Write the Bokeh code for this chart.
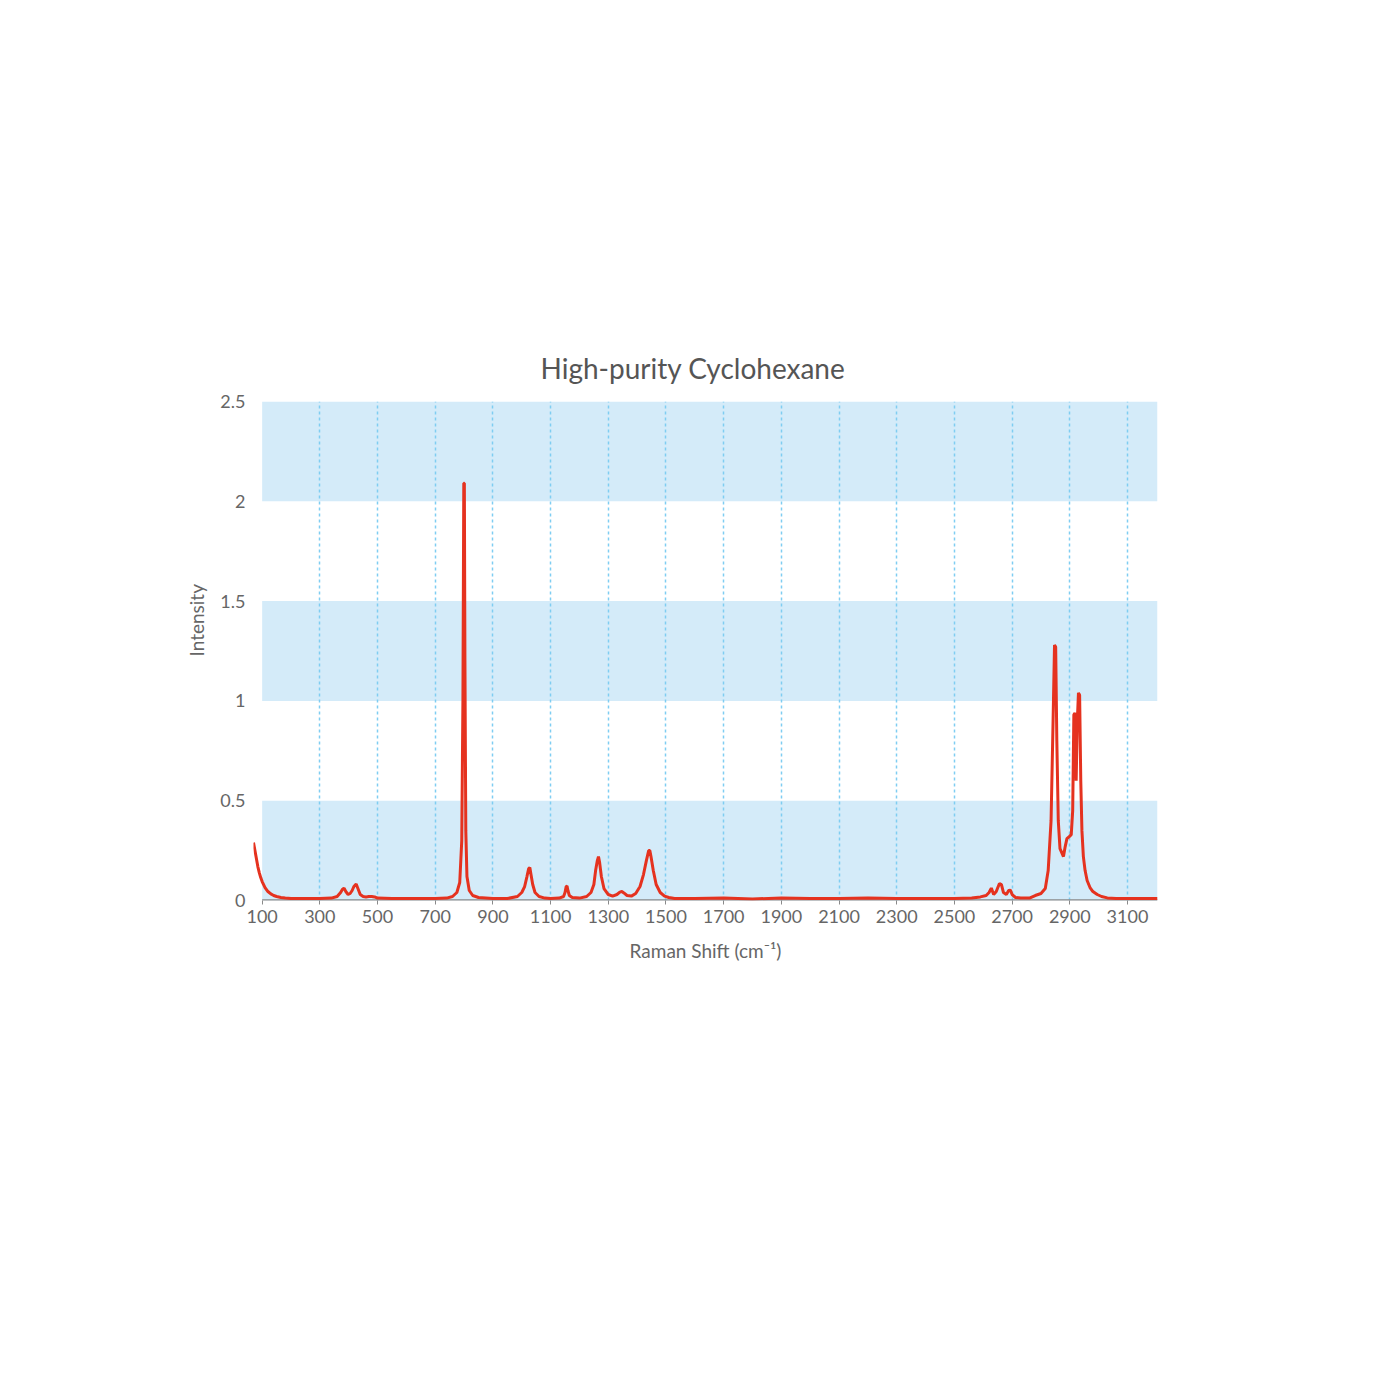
from bokeh.plotting import figure
from bokeh.models import FixedTicker, Range1d, Title
from bokeh.embed import file_html
from bokeh.resources import INLINE

# ---------------- data ----------------
raman_shift = [
    70, 75, 80, 85, 90, 95, 100, 110, 120, 130, 140, 150, 165, 180, 200, 250, 300,
    340, 360, 372, 378, 384, 390, 398, 405, 412, 418, 426, 432, 440, 450, 460, 470,
    480, 490, 500, 550, 600, 650, 700, 740, 760, 775, 785, 792, 796, 799, 801, 803,
    806, 810, 818, 830, 850, 900, 950, 985, 1000, 1010, 1018, 1024, 1028, 1032, 1038,
    1046, 1060, 1080, 1100, 1130, 1145, 1150, 1154, 1157, 1160, 1165, 1175, 1200,
    1225, 1240, 1250, 1256, 1262, 1266, 1270, 1276, 1285, 1300, 1315, 1330, 1340,
    1347, 1354, 1365, 1380, 1395, 1410, 1422, 1432, 1440, 1444, 1448, 1456, 1466,
    1480, 1495, 1510, 1530, 1600, 1700, 1800, 1900, 2000, 2100, 2200, 2300, 2400,
    2500, 2560, 2590, 2610, 2620, 2628, 2636, 2645, 2656, 2663, 2670, 2680, 2688,
    2694, 2700, 2712, 2730, 2760, 2780, 2800, 2815, 2825, 2835, 2842, 2847, 2851,
    2855, 2860, 2866, 2872, 2878, 2884, 2890, 2898, 2905, 2910, 2914, 2918, 2922,
    2926, 2930, 2934, 2938, 2942, 2947, 2953, 2960, 2970, 2980, 2995, 3010, 3030,
    3060, 3100, 3150, 3204,
]
intensity = [
    0.29, 0.25, 0.21, 0.17, 0.14, 0.115, 0.095, 0.065, 0.045, 0.033, 0.025, 0.02,
    0.015, 0.012, 0.01, 0.01, 0.01,
    0.012, 0.02, 0.04, 0.055, 0.062, 0.045, 0.03, 0.035, 0.05, 0.07, 0.082, 0.06,
    0.03, 0.02, 0.018, 0.02,
    0.02, 0.018, 0.012, 0.01, 0.01, 0.01, 0.01, 0.012, 0.02, 0.04, 0.09, 0.3, 1.0,
    2.09, 2.09, 1.2,
    0.35, 0.12, 0.05, 0.025, 0.015, 0.01, 0.01, 0.02, 0.04, 0.07, 0.12, 0.16, 0.165,
    0.13, 0.08,
    0.04, 0.02, 0.012, 0.01, 0.012, 0.02, 0.04, 0.07, 0.072, 0.05, 0.025, 0.015,
    0.012,
    0.02, 0.04, 0.08, 0.15, 0.2, 0.22, 0.19, 0.12, 0.06, 0.03, 0.022, 0.03, 0.042,
    0.045, 0.038, 0.025, 0.022, 0.035, 0.07, 0.13, 0.2, 0.25, 0.25, 0.22, 0.15, 0.08,
    0.04, 0.022, 0.015, 0.01, 0.01, 0.012, 0.008, 0.012, 0.01, 0.01, 0.012, 0.01,
    0.01,
    0.01, 0.012, 0.018, 0.025, 0.04, 0.062, 0.03, 0.045, 0.085, 0.08, 0.04, 0.03,
    0.05,
    0.052, 0.03, 0.015, 0.012, 0.012, 0.025, 0.035, 0.06, 0.15, 0.4, 0.9, 1.28, 1.27,
    0.8, 0.4, 0.26, 0.24, 0.22, 0.27, 0.31, 0.32, 0.33, 0.45, 0.93, 0.94, 0.6,
    0.9, 1.04, 1.03, 0.6, 0.35, 0.22, 0.15, 0.1, 0.065, 0.045, 0.03, 0.02, 0.013,
    0.01, 0.01, 0.01, 0.01,
]
x_ticks = [100, 300, 500, 700, 900, 1100, 1300, 1500, 1700, 1900, 2100, 2300,
           2500, 2700, 2900, 3100]
x_grid = [300, 500, 700, 900, 1100, 1300, 1500, 1700, 1900, 2100, 2300, 2500,
          2700, 2900, 3100]
y_ticks = [0, 0.5, 1, 1.5, 2, 2.5]
band_bottom = [0, 1, 2]
band_top = [0.5, 1.5, 2.5]
x_min, x_band_start, x_max = 70, 100, 3204

FONT = "Lato"
TEXT = "#666666"

p = figure(
    output_backend="svg", toolbar_location=None,
    frame_width=904, frame_height=499,
    min_border_left=253, min_border_top=401, min_border_right=60,
    min_border_bottom=90,
    x_range=Range1d(x_min, x_max), y_range=Range1d(0, 2.5),
    title="High-purity Cyclohexane",
)
p.outline_line_color = None
p.background_fill_color = "white"

# title
p.title.text_font = FONT
p.title.text_font_size = "28px"
p.title.text_font_style = "normal"
p.title.text_color = "#555555"
p.title.align = "left"
p.title.offset = 287
p.title.standoff = 33

# bands
bands = p.quad(left=x_band_start, right=x_max, bottom=band_bottom, top=band_top,
               fill_color="#d4ebf9", line_color=None)
bands.level = "image"

# grids
p.ygrid.grid_line_color = None
p.xgrid.ticker = FixedTicker(ticks=x_grid)
p.xgrid.grid_line_color = "#7fcdf2"
p.xgrid.grid_line_dash = "3 3"
p.xgrid.grid_line_width = 1.5

# baseline
p.segment(x0=x_band_start, y0=0, x1=x_max, y1=0, line_color="#8a8a8a", line_width=2.5)

# spectrum
p.line(raman_shift, intensity, line_color="#e5321f", line_width=3)

# axes
p.xaxis.ticker = FixedTicker(ticks=x_ticks)
p.yaxis.ticker = FixedTicker(ticks=y_ticks)
p.yaxis.major_label_overrides = {0: "0", 0.5: "0.5", 1: "1", 1.5: "1.5", 2: "2", 2.5: "2.5"}
for ax in (p.xaxis, p.yaxis):
    ax.axis_line_color = None
    ax.minor_tick_line_color = None
    ax.major_label_text_font = FONT
    ax.major_label_text_color = TEXT
    ax.major_label_text_font_size = "18px"
    ax.axis_label_text_font = FONT
    ax.axis_label_text_color = TEXT
    ax.axis_label_text_font_size = "19px"
    ax.axis_label_text_font_style = "normal"
p.xaxis.major_tick_line_color = "#8a8a8a"
p.xaxis.major_tick_out = 4
p.xaxis.major_tick_in = 0
p.xaxis.major_label_standoff = 5
p.yaxis.major_tick_line_color = None
p.yaxis.major_tick_out = 0
p.yaxis.major_tick_in = 0
p.yaxis.major_label_standoff = 8
p.xaxis.axis_label = "Raman Shift (cm\u207b\u00b9)"
p.xaxis.axis_label_standoff = 13

# y-axis title, placed off-centre as in the reference
ytitle = Title(text="Intensity", align="left", offset=244, standoff=20,
               text_font=FONT, text_font_size="19px", text_font_style="normal",
               text_color=TEXT)
p.add_layout(ytitle, "left")

open("out.html", "w").write(file_html(p, INLINE))
